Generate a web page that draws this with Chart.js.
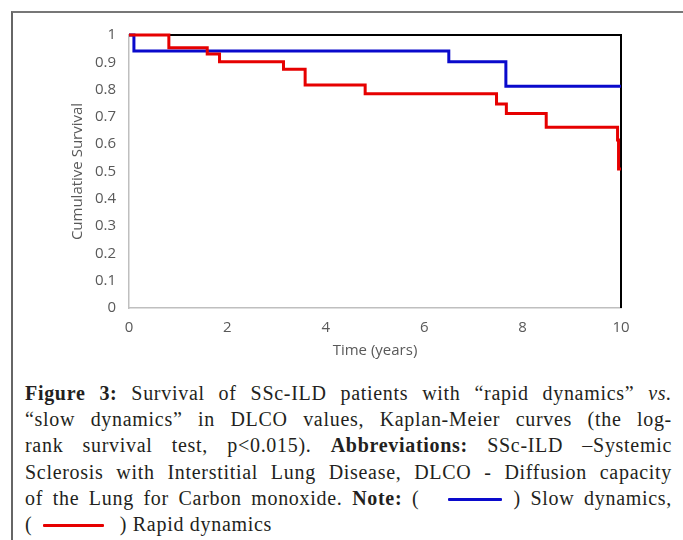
<!DOCTYPE html>
<html>
<head>
<meta charset="utf-8">
<script src="https://cdn.jsdelivr.net/npm/chart.js@4"></script>
<style>
  html, body { margin: 0; padding: 0; background: #fff; }
  body { width: 683px; height: 540px; position: relative; overflow: hidden; }
  #frame { position: absolute; left: 11px; top: 11px; width: 700px; height: 560px;
           border-left: 2px solid #666; border-top: 2px solid #777; box-sizing: border-box; }
  #wrap { position: absolute; left: 0; top: 0; width: 683px; height: 370px; }
  #cap { position: absolute; left: 25px; top: 380px; width: 647px;
         font-family: "Liberation Serif", "DejaVu Serif", serif; font-size: 20px;
         line-height: 26.2px; color: #231f20; letter-spacing: 0.7px; }
  #cap b { font-weight: 600; }
  .l { white-space: nowrap; height: 26.2px; }
  .j { text-align: justify; text-align-last: justify; white-space: normal; }
  .sw { display: inline-block; height: 3px; vertical-align: middle; border-radius: 1px; }
  .blue { background: #0a0acc; width: 54px; margin: 0 2px 2px 19px; }
  .red { background: #e60000; width: 61px; margin: 0 10px 2px 5px; }
</style>
</head>
<body>
<div id="frame"></div>
<div id="wrap"><canvas id="c" width="683" height="370"></canvas></div>
<div id="cap">
  <div class="l j"><b>Figure 3:</b> Survival of SSc-ILD patients with “rapid dynamics” <i>vs.</i></div>
  <div class="l j">“slow dynamics” in DLCO values, Kaplan-Meier curves (the log-</div>
  <div class="l j">rank survival test, p&lt;0.015). <b>Abbreviations:</b> SSc-ILD –Systemic</div>
  <div class="l j">Sclerosis with Interstitial Lung Disease, DLCO - Diffusion capacity</div>
  <div class="l j">of the Lung for Carbon monoxide. <b>Note:</b> ( <span class="sw blue"></span> ) Slow dynamics,</div>
  <div class="l">( <span class="sw red"></span> ) Rapid dynamics</div>
</div>
<script>
// Kaplan-Meier step data (time in years, cumulative survival)
const slowTimes = [0, 0.1, 6.5, 7.66, 10];
const slowSurvival = [1, 0.941, 0.902, 0.812, 0.812];

const rapidTimes = [0, 0.81, 1.59, 1.84, 3.14, 3.58, 4.80, 7.47, 7.67, 8.48, 9.93, 9.95, 10];
const rapidSurvival = [1, 0.953, 0.930, 0.902, 0.875, 0.817, 0.785, 0.747, 0.712, 0.662, 0.615, 0.509, 0.509];

const frameTimes = [0, 10, 10];
const frameSurvival = [1, 1, 0];

const xTicks = [0, 2, 4, 6, 8, 10];
const yTicks = [0, 0.1, 0.2, 0.3, 0.4, 0.5, 0.6, 0.7, 0.8, 0.9, 1];

const toPts = (xs, ys) => xs.map((x, i) => ({ x: x, y: ys[i] }));
const FONT = 'Open Sans';

new Chart(document.getElementById('c'), {
  type: 'line',
  data: {
    datasets: [
      { label: 'Rapid dynamics', data: toPts(rapidTimes, rapidSurvival), borderColor: '#e60000',
        borderWidth: 3, stepped: 'before', pointRadius: 0, fill: false, order: 0, clip: 6 },
      { label: 'Slow dynamics', data: toPts(slowTimes, slowSurvival), borderColor: '#0a0acc',
        borderWidth: 3, stepped: 'before', pointRadius: 0, fill: false, order: 1, clip: 6 },
      { label: 'frame', data: toPts(frameTimes, frameSurvival), borderColor: '#000000',
        borderWidth: 2, pointRadius: 0, fill: false, order: 2, clip: 6 }
    ]
  },
  options: {
    responsive: false,
    animation: false,
    layout: { padding: { left: 60, top: 35, right: 62, bottom: 2 } },
    plugins: { legend: { display: false }, tooltip: { enabled: false } },
    scales: {
      x: {
        type: 'linear', min: 0, max: 10,
        afterBuildTicks: (s) => { s.ticks = xTicks.map(v => ({ value: v })); },
        afterFit: (s) => { s.height = 60; },
        grid: { display: false, drawTicks: false },
        border: { display: true, color: '#bfbfbf', width: 1.5 },
        ticks: { color: '#595959', padding: 10.9, font: { family: FONT, size: 15 } },
        title: { display: true, text: 'Time (years)', color: '#595959',
                 font: { family: FONT, size: 15 }, padding: { top: 0, bottom: 8 } }
      },
      y: {
        min: 0, max: 1,
        afterBuildTicks: (s) => { s.ticks = yTicks.map(v => ({ value: v })); },
        afterFit: (s) => { s.width = 69; },
        grid: { display: false, drawTicks: false },
        border: { display: true, color: '#bfbfbf', width: 1.5 },
        ticks: { color: '#595959', padding: 13, font: { family: FONT, size: 15 },
                 callback: (v) => String(Math.round(v * 10) / 10) },
        title: { display: true, text: 'Cumulative Survival', color: '#595959',
                 font: { family: FONT, size: 15 }, padding: { top: 9, bottom: 0 } }
      }
    }
  }
});
</script>
</body>
</html>
